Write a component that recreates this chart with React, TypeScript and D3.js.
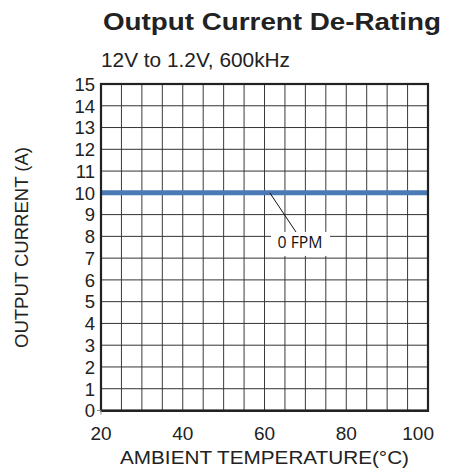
import React from "react";
import * as d3 from "d3";

const title = "Output Current De-Rating";
const subtitle = "12V to 1.2V, 600kHz";
const xLabel = "AMBIENT TEMPERATURE(°C)";
const yLabel = "OUTPUT CURRENT (A)";
const xTicks = [20, 40, 60, 80, 100];
const yTicks = [0, 1, 2, 3, 4, 5, 6, 7, 8, 9, 10, 11, 12, 13, 14, 15];
const xGrid = d3.range(20, 100.1, 5);
const seriesTemp = [20, 100];
const seriesCurrent = [10, 10];
const seriesName = "0 FPM";
const annotFrom = [61.3, 10];
const annotTo = [67.7, 8.2];
const annotLabel = [68.7, 7.47];

export default function App() {
  const W = 449, H = 474;
  const left = 101, right = 428, top = 84, bottom = 410.5;
  const x = d3.scaleLinear().domain([20, 100]).range([left, right]);
  const y = d3.scaleLinear().domain([0, 15]).range([bottom, top]);
  const font = "'Liberation Sans', Arial, sans-serif";
  const line = d3
    .line<number>()
    .x((_, i) => x(seriesTemp[i]))
    .y((d) => y(d));
  return (
    <svg
      width={W}
      height={H}
      style={{ position: "absolute", left: 0, top: 0 }}
      fontFamily={font}
    >
      <rect width={W} height={H} fill="#fff" />
      <text x={103} y={30} fontSize={24} fontWeight="bold" fill="#222" textLength={338} lengthAdjust="spacingAndGlyphs">
        {title}
      </text>
      <text x={101} y={66.5} fontSize={20} fill="#222" textLength={189} lengthAdjust="spacingAndGlyphs">
        {subtitle}
      </text>
      {/* grid */}
      {xGrid.slice(1, -1).map((v) => (
        <line key={"vx" + v} x1={x(v)} x2={x(v)} y1={top} y2={bottom} stroke="#3a3a3a" strokeWidth={1} />
      ))}
      {yTicks.slice(1, -1).map((v) => (
        <line key={"hy" + v} x1={left} x2={right} y1={y(v)} y2={y(v)} stroke="#333" strokeWidth={1} />
      ))}
      {/* series */}
      <path d={line(seriesCurrent) || ""} fill="none" stroke="#4a7ab6" strokeWidth={5} />
      {/* annotation */}
      <rect
        x={x(annotLabel[0]) - 29}
        y={y(annotLabel[1]) - 16}
        width={59}
        height={24}
        fill="#fff"
      />
      <line
        x1={x(annotFrom[0])}
        y1={y(annotFrom[1])}
        x2={x(annotTo[0])}
        y2={y(annotTo[1])}
        stroke="#111"
        strokeWidth={1}
      />
      <text
        x={x(annotLabel[0])}
        y={y(annotLabel[1])}
        fontSize={15.5}
        textAnchor="middle"
        fontFamily="'Open Sans', 'Noto Sans', sans-serif"
        fill="#111"
        textLength={45}
        lengthAdjust="spacingAndGlyphs"
      >
        {seriesName}
      </text>
      {/* border */}
      <rect x={left} y={top} width={right - left} height={bottom - top} fill="none" stroke="#222" strokeWidth={2.2} />
      <line x1={left} x2={right + 1} y1={bottom + 0.5} y2={bottom + 0.5} stroke="#222" strokeWidth={2} />
      <line x1={left} x2={left} y1={bottom} y2={bottom + 4} stroke="#888" strokeWidth={1} />
      <line x1={left - 4} x2={left} y1={bottom} y2={bottom} stroke="#888" strokeWidth={1} />
      {/* y ticks */}
      {yTicks.map((v) => (
        <text key={"yt" + v} x={95} y={y(v) + 6.8} fontSize={18.5} textAnchor="end" fill="#222">
          {v}
        </text>
      ))}
      {xTicks.map((v, i) => (
        <text
          key={"xt" + v}
          x={i === xTicks.length - 1 ? x(v) + 6 : x(v)}
          y={440}
          fontSize={19}
          textAnchor={i === xTicks.length - 1 ? "end" : "middle"}
          fill="#222"
        >
          {v}
        </text>
      ))}
      <text x={120} y={464} fontSize={18} fill="#222" textLength={289} lengthAdjust="spacingAndGlyphs">
        {xLabel}
      </text>
      <text
        transform={`translate(28,247.5) rotate(-90)`}
        fontSize={19}
        textAnchor="middle"
        fill="#222"
        textLength={201}
        lengthAdjust="spacingAndGlyphs"
      >
        {yLabel}
      </text>
    </svg>
  );
}
